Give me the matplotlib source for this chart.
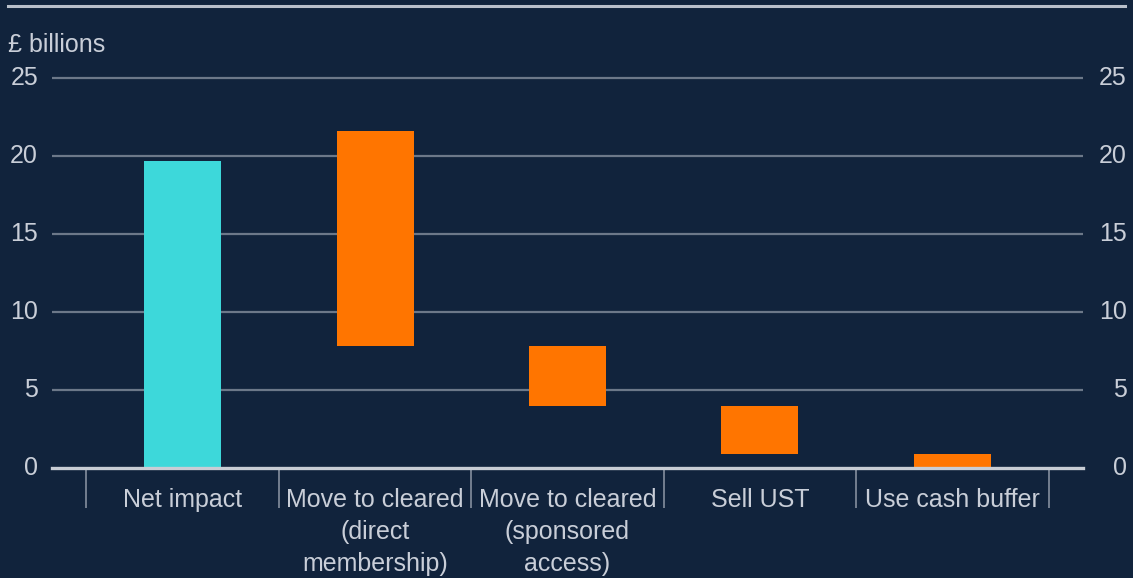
import matplotlib
matplotlib.use("Agg")
import matplotlib.pyplot as plt
from matplotlib.transforms import blended_transform_factory

# Data (£ billions): each bar spans from its base to its top
categories = ["Net impact", "Move to cleared\n(direct\nmembership)",
              "Move to cleared\n(sponsored\naccess)", "Sell UST", "Use cash buffer"]
bar_bottoms = [0.0, 7.8, 4.0, 0.9, 0.0]
bar_tops = [19.7, 21.6, 7.8, 4.0, 0.9]
bar_colors = ["#3dd8da", "#ff7500", "#ff7500", "#ff7500", "#ff7500"]
y_ticks = [0, 5, 10, 15, 20, 25]
unit_label = "£ billions"

BG = "#11233c"
TEXT = "#c9ced8"
GRID = "#6c7889"
ZERO = "#c8cdd5"

plt.rcParams["font.family"] = ["Liberation Sans", "DejaVu Sans"]

W, H = 1133, 578
fig = plt.figure(figsize=(W / 100, H / 100), dpi=100, facecolor=BG)

# axes placement in pixels
x0, x1 = 52, 1083
y_zero, y_25 = 468, 78
px_per_unit = (y_zero - y_25) / 25.0
ylo, yhi = -0.6, 25.6
top_px = y_zero - yhi * px_per_unit
bot_px = y_zero - ylo * px_per_unit
ax = fig.add_axes([x0 / W, 1 - bot_px / H, (x1 - x0) / W, (bot_px - top_px) / H])
ax.set_facecolor(BG)
ax.set_ylim(ylo, yhi)
ax.set_xlim(-0.678, len(categories) - 1 + 0.678)

# horizontal gridlines
for t in y_ticks[1:]:
    ax.axhline(t, color=GRID, lw=1.6, zorder=1)

# floating bars
heights = [t - b for t, b in zip(bar_tops, bar_bottoms)]
ax.bar(range(len(categories)), heights, bottom=bar_bottoms, width=0.4,
       color=bar_colors, zorder=2)

# zero line as bottom spine
for s in ["top", "left", "right"]:
    ax.spines[s].set_visible(False)
ax.spines["bottom"].set_position(("data", 0))
ax.spines["bottom"].set_color(ZERO)
ax.spines["bottom"].set_linewidth(2.4)
ax.spines["bottom"].set_zorder(3)

# category labels and separators
ax.set_xticks(range(len(categories)))
ax.set_xticklabels(categories, color=TEXT, fontsize=18, linespacing=1.42)
ax.set_xticks([i - 0.5 for i in range(len(categories) + 1)], minor=True)
ax.tick_params(axis="x", which="major", length=0, pad=14.5)
ax.tick_params(axis="x", which="minor", length=29, width=1.3, color="#7c8696",
               direction="out")

# y tick labels on both sides
ax.set_yticks([])
trans_l = blended_transform_factory(fig.transFigure, ax.transData)
for t in y_ticks:
    ax.text(38 / W, t, str(t), transform=trans_l, ha="right", va="center",
            color=TEXT, fontsize=18)
    ax.text(1127 / W, t, str(t), transform=trans_l, ha="right", va="center",
            color=TEXT, fontsize=18)

fig.text(8 / W, 1 - 45 / H, unit_label, ha="left", va="center", color=TEXT,
         fontsize=18)

# rule across the top
fig.add_artist(plt.Line2D([8 / W, 1125 / W], [1 - 6 / H, 1 - 6 / H],
                          transform=fig.transFigure, color="#b9bfca", lw=2.2))

fig.savefig("out.png", dpi=100, facecolor=BG)
